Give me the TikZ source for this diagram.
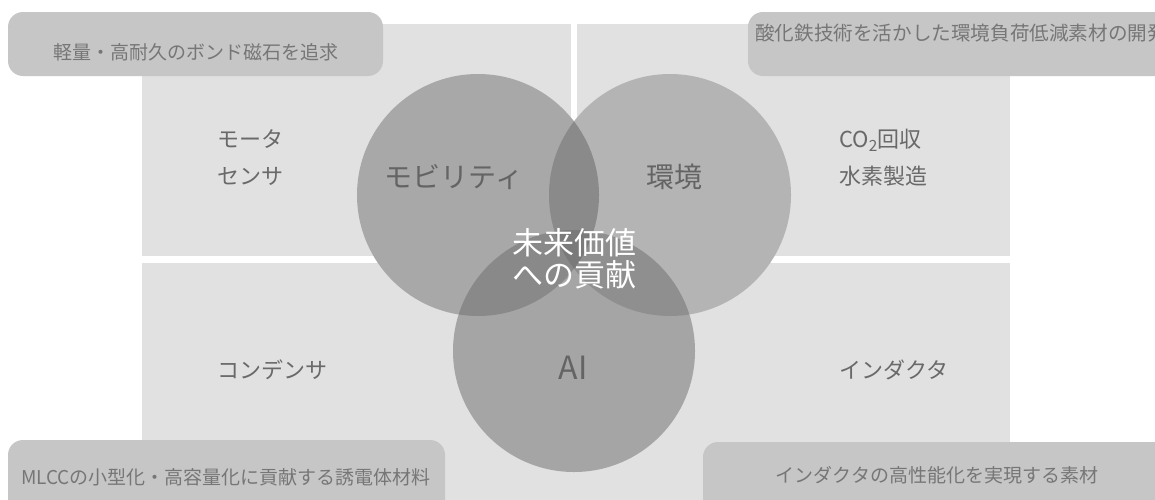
\documentclass[tikz,border=0pt]{standalone}
\usepackage{fontspec}
\setmainfont{Noto Sans CJK JP}
\definecolor{quad}{RGB}{225,225,225}
\definecolor{tagfill}{RGB}{198,198,198}
\definecolor{tagink}{RGB}{118,118,118}
\definecolor{quadink}{RGB}{105,105,105}
\definecolor{circink}{RGB}{100,100,100}
\definecolor{mobc}{RGB}{113,113,113}
\definecolor{envc}{RGB}{49,49,49}
\definecolor{aic}{RGB}{107,107,107}
\begin{document}
\begin{tikzpicture}[x=1pt,y=-1pt,
  quadrant/.style={fill=quad},
  tagbox/.style={fill=tagfill, rounded corners=15pt},
  tagtext/.style={text=tagink, font=\fontsize{19}{22}\selectfont, inner sep=0pt},
  quadtext/.style={text=quadink, font=\fontsize{22}{37}\selectfont, inner sep=0pt, anchor=west, align=left},
  venn/.style={circle, minimum size=242pt, inner sep=0pt, draw=none},
  circlabel/.style={text=circink, font=\fontsize{28}{30}\selectfont, inner sep=0pt},
  centertext/.style={text=white, font=\fontsize{31}{32}\selectfont, inner sep=0pt, align=center}]
\clip (0,0) rectangle (1155,499);
\fill[white] (0,0) rectangle (1155,499);
% quadrants
\fill[quadrant] (142,24) rectangle (571,256);
\fill[quadrant] (577,24) rectangle (1010,256);
\fill[quadrant] (142,263) rectangle (1010,510);
% label boxes
\fill[tagbox] (8,12) rectangle (383,76);
\fill[tagbox] (748,12) rectangle (1185,76);
\fill[tagbox] (8,440) rectangle (445,530);
\fill[tagbox] (703,442) rectangle (1185,530);
% opaque base under the circles
\fill[quad] (478,195) circle (121pt) (670,195) circle (121pt) (574,351) circle (121pt);
% circles
\node[venn, fill=mobc, fill opacity=0.5] (mob) at (478,195) {};
\node[venn, fill=envc, fill opacity=0.25] (env) at (670,195) {};
\node[venn, fill=aic, fill opacity=0.5] (ai) at (574,351) {};
% quadrant texts
\node[quadtext] (tltext) at (217,158) {モータ\\センサ};
\node[quadtext] (trtext) at (839,158) {CO\textsubscript{2}回収\\水素製造};
\node[quadtext] (bltext) at (217,370) {コンデンサ};
\node[quadtext] (brtext) at (839,370) {インダクタ};
% circle labels
\node[circlabel] (mobtext) at (454,177) {モビリティ};
\node[circlabel] (envtext) at (674,177) {環境};
\node[circlabel, font=\fontsize{32}{32}\selectfont] (aitext) at (573,368) {AI};
\node[centertext] (centre) at (574,259) {未来価値\\への貢献};
% tag texts
\node[tagtext] (tltag) at (196,52) {軽量・高耐久のボンド磁石を追求};
\node[tagtext, anchor=west, font=\fontsize{19.6}{22}\selectfont] (trtag) at (755,33) {酸化鉄技術を活かした環境負荷低減素材の開発};
\node[tagtext] (bltag) at (226,477) {MLCCの小型化・高容量化に貢献する誘電体材料};
\node[tagtext] (brtag) at (937,475) {インダクタの高性能化を実現する素材};
\end{tikzpicture}
\end{document}
